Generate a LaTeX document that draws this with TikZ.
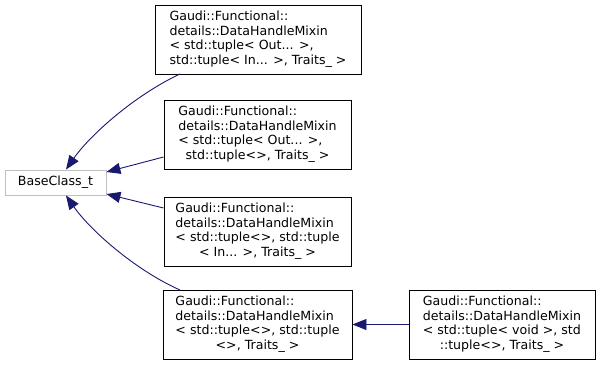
\documentclass[tikz,border=0pt]{standalone}
\usepackage{fontspec}
\setmainfont{DejaVu Sans}
\usetikzlibrary{arrows.meta}
\definecolor{edgeblue}{HTML}{191970}
\definecolor{greyframe}{HTML}{BFBFBF}
\newcommand{\dlines}[4]{\begin{tabular}{@{}l@{}}#1\\#2\\#3\\\multicolumn{1}{@{}c@{}}{#4}\end{tabular}}
\tikzset{
  cls/.style={draw=black, line width=0.9pt, fill=white, inner sep=0pt, minimum height=69pt,
    font=\fontsize{12.6}{14.6}\selectfont, align=center},
  basecls/.style={draw=greyframe, line width=0.9pt, fill=white, inner sep=0pt, minimum width=101pt,
    minimum height=25pt, font=\fontsize{12.6}{14.6}\selectfont},
  inh/.style={draw=edgeblue, line width=0.9pt, -{Triangle[length=14pt,width=11pt]}},
}
\begin{document}
\begin{tikzpicture}[x=1pt,y=-1pt]
\useasboundingbox (0,0) rectangle (601,365);
\node[basecls] (base) at (55.5,182.5) {BaseClass\_t};
\node[cls, minimum width=206pt] (b1) at (258,39.5)
  {\dlines{Gaudi::Functional::}{details::DataHandleMixin}{< std::tuple< Out... >,}{std::tuple< In... >, Traits\_ >}};
\node[cls, minimum width=187pt] (b2) at (257.5,134.5)
  {\dlines{Gaudi::Functional::}{details::DataHandleMixin}{< std::tuple< Out... >,}{std::tuple<>, Traits\_ >}};
\node[cls, minimum width=187pt] (b3) at (257.5,231.5)
  {\dlines{Gaudi::Functional::}{details::DataHandleMixin}{< std::tuple<>, std::tuple}{< In... >, Traits\_ >}};
\node[cls, minimum width=189pt] (b4) at (257.5,324.5)
  {\dlines{Gaudi::Functional::}{details::DataHandleMixin}{< std::tuple<>, std::tuple}{<>, Traits\_ >}};
\node[cls, minimum width=186pt] (b5) at (502,324.5)
  {\dlines{Gaudi::Functional::}{details::DataHandleMixin}{< std::tuple< void >, std}{::tuple<>, Traits\_ >}};
\coordinate (s1) at (180,74);
\coordinate (s4) at (180,290);
\draw[inh] (s1) .. controls (135,95) and (90,135) .. (base.north-|66,0);
\draw[inh] (b2.west|-0,157) -- (base.north east|-0,172);
\draw[inh] (b3.west|-0,208) -- (base.south east|-0,194);
\draw[inh] (s4) .. controls (135,270) and (90,230) .. (base.south-|66,0);
\draw[inh] (b5.west) -- (b4.east);
\end{tikzpicture}
\end{document}
